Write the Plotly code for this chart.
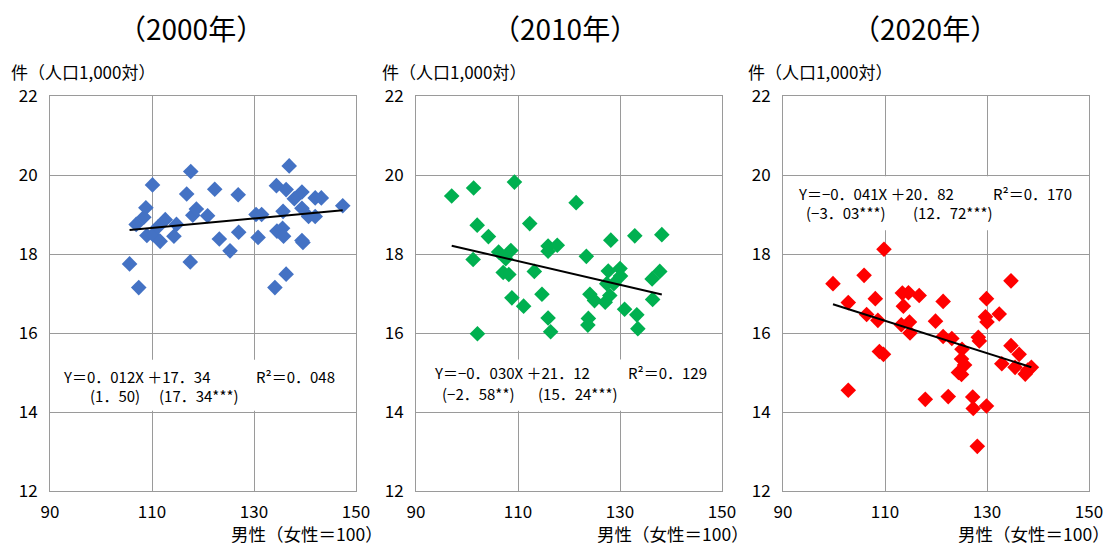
import plotly.graph_objects as go

# ---------------- data ----------------
years = ["2000", "2010", "2020"]
colors = ["#4472C4", "#00B050", "#FF0000"]

x2000 = [105.6, 107.4, 106.9, 108.4, 108.8, 110.1, 109.0, 110.2, 111.2, 111.6, 112.6, 114.3,
         114.8, 117.6, 116.8, 118.0, 118.7, 117.5, 120.9, 122.3, 123.2, 125.3, 126.9, 127.0,
         130.4, 131.5, 130.8, 134.1, 134.4, 136.3, 136.9, 135.7, 134.5, 135.6, 135.8, 136.3,
         137.9, 139.4, 139.4, 139.4, 139.6, 140.7, 142.0, 142.0, 143.2, 147.4]
y2000 = [17.75, 17.15, 18.75, 18.93, 19.17, 19.75, 18.47, 18.49, 18.69, 18.32, 18.87, 18.45,
         18.75, 20.09, 19.52, 18.98, 19.14, 17.80, 18.97, 19.64, 18.38, 18.08, 19.50, 18.55,
         19.00, 19.00, 18.42, 17.15, 19.73, 19.63, 20.23, 19.08, 18.58, 18.65, 18.45, 17.49,
         19.40, 19.57, 19.16, 18.34, 18.29, 18.95, 18.95, 19.42, 19.42, 19.22]

x2010 = [97.0, 101.3, 101.2, 102.0, 104.2, 106.2, 107.6, 108.6, 107.1, 108.2, 109.3, 108.8,
         112.3, 113.2, 111.1, 114.7, 115.9, 115.9, 117.7, 121.4, 123.4, 124.1, 125.0, 127.1,
         128.0, 127.7, 128.2, 127.4, 128.8, 130.0, 130.1, 132.9, 130.9, 133.3, 136.3, 136.4,
         137.8, 138.2, 115.9, 102.05, 116.4, 123.8, 123.7, 133.5]
y2010 = [19.47, 19.67, 17.86, 18.73, 18.44, 18.05, 17.88, 18.09, 17.53, 17.48, 19.82, 16.89,
         18.77, 17.56, 16.68, 16.98, 18.20, 18.07, 18.22, 19.30, 17.94, 16.98, 16.82, 16.78,
         16.95, 17.57, 18.35, 17.25, 17.25, 17.63, 17.44, 18.46, 16.60, 16.46, 17.37, 16.85,
         17.56, 18.49, 16.38, 15.98, 16.03, 16.37, 16.20, 16.11]

x2020 = [99.8, 105.9, 109.8, 102.8, 108.1, 113.4, 114.6, 116.7, 113.6, 121.4, 129.9, 134.7,
         132.4, 106.4, 108.6, 113.2, 114.8, 114.9, 119.9, 121.4, 123.1, 125.1, 125.0, 125.6,
         124.4, 125.0, 128.3, 128.5, 129.7, 130.0, 134.7, 132.9, 136.3, 135.5, 137.5, 138.0,
         138.7, 102.8, 108.9, 109.7, 117.9, 122.4, 127.2, 127.3, 129.9, 128.1]
y2020 = [17.25, 17.46, 18.12, 16.77, 16.87, 17.01, 17.02, 16.95, 16.68, 16.80, 16.87, 17.32,
         16.48, 16.47, 16.32, 16.21, 16.28, 16.00, 16.30, 15.91, 15.86, 15.59, 15.34, 15.19,
         15.00, 14.95, 15.89, 15.80, 16.41, 16.28, 15.68, 15.22, 15.46, 15.13, 14.96, 15.06,
         15.13, 14.55, 15.53, 15.46, 14.32, 14.39, 14.38, 14.09, 14.15, 13.13]

slopes = [0.012, -0.030, -0.041]
intercepts = [17.34, 21.12, 20.82]

eq_text = ["Y＝0．012X ＋17．34", "Y＝−0．030X ＋21．12", "Y＝−0．041X ＋20．82"]
t_slope = ["(1．50)", "(−2．58**)", "(−3．03***)"]
t_inter = ["(17．34***)", "(15．24***)", "(12．72***)"]
r2_text = ["R²＝0．048", "R²＝0．129", "R²＝0．170"]

x_ticks = [90, 110, 130, 150]
y_ticks = [12, 14, 16, 18, 20, 22]
y_label = "件（人口1,000対）"
x_label = "男性（女性＝100）"

xs = [x2000, x2010, x2020]
ys = [y2000, y2010, y2020]

# ---------------- layout helpers ----------------
W, H = 1112, 545
OFF = 8  # page offset of the figure inside the browser window
FONT = "Noto Sans CJK JP"


def px_x(px):
    return (px - OFF) / W


def px_y(py):
    return 1 - (py - OFF) / H


plot_px = [(50, 356), (416, 722), (783, 1089)]
top_px, bot_px = 96, 491
title_cx = [191, 565, 925]
ylab_x = [10, 381, 747]
xlab_right = [384, 750, 1111]

# annotation placement (data coords)
box_rects = [(90.3, 147.3, 14.03, 15.32), (91.4, 148.2, 14.03, 15.33), (90.3, 149.7, 18.6, 19.97)]
eq_pos = [(92.4, 14.91), (93.3, 14.99), (92.7, 19.54)]
ts_pos = [(97.6, 14.43), (94.9, 14.48), (94.3, 19.04)]
ti_pos = [(111.2, 14.43), (113.7, 14.48), (115.3, 19.04)]
r2_pos = [(130.2, 14.91), (131.4, 14.99), (131.0, 19.54)]

fig = go.Figure()
annotations = []
shapes = []

for i in range(3):
    sfx = "" if i == 0 else str(i + 1)
    xref, yref = "x" + sfx, "y" + sfx
    fig.add_trace(go.Scatter(
        x=xs[i], y=ys[i], mode="markers",
        marker=dict(symbol="diamond", size=12, color=colors[i], line=dict(width=0)),
        xaxis=xref, yaxis=yref, showlegend=False, cliponaxis=False))
    lx = [min(xs[i]), max(xs[i])]
    ly = [slopes[i] * v + intercepts[i] for v in lx]
    fig.add_trace(go.Scatter(
        x=lx, y=ly, mode="lines", line=dict(color="black", width=2),
        xaxis=xref, yaxis=yref, showlegend=False))

    x0, x1 = plot_px[i]
    axx = dict(domain=[px_x(x0), px_x(x1)], range=[90, 150], tickvals=x_ticks, showgrid=True,
               gridcolor="#9a9a9a", gridwidth=1, showline=True, linecolor="#9a9a9a",
               mirror=True, zeroline=False, ticks="", anchor=yref, automargin=False,
               tickfont=dict(family=FONT, size=17, color="black"), ticklabelstandoff=6)
    axy = dict(domain=[px_y(bot_px), px_y(top_px)], range=[12, 22], tickvals=y_ticks,
               showgrid=True, gridcolor="#9a9a9a", gridwidth=1, showline=True,
               linecolor="#9a9a9a", mirror=True, zeroline=False, ticks="", anchor=xref,
               automargin=False,
               tickfont=dict(family=FONT, size=17, color="black"), ticklabelstandoff=8)
    fig.update_layout(**{"xaxis" + sfx: axx, "yaxis" + sfx: axy})

    bx0, bx1, by0, by1 = box_rects[i]
    shapes.append(dict(type="rect", xref=xref, yref=yref, x0=bx0, x1=bx1, y0=by0, y1=by1,
                       fillcolor="white", line=dict(width=0), layer="between"))

    tf = dict(family=FONT, size=15, color="black")
    for txt, (px, py) in zip([eq_text[i], t_slope[i], t_inter[i], r2_text[i]],
                             [eq_pos[i], ts_pos[i], ti_pos[i], r2_pos[i]]):
        annotations.append(dict(text=txt, x=px, y=py, xref=xref, yref=yref,
                                xanchor="left", yanchor="middle", showarrow=False, font=tf,
                                borderpad=0))

    annotations.append(dict(text="（" + years[i] + "年）", x=px_x(title_cx[i]), y=px_y(28),
                            xref="paper", yref="paper", xanchor="center", yanchor="middle",
                            showarrow=False, borderpad=0,
                            font=dict(family=FONT, size=28, color="black")))
    annotations.append(dict(text=y_label, x=px_x(ylab_x[i]), y=px_y(71), xref="paper",
                            yref="paper", xanchor="left", yanchor="middle", showarrow=False,
                            font=dict(family=FONT, size=17, color="black"), borderpad=0))
    annotations.append(dict(text=x_label, x=px_x(xlab_right[i]), y=px_y(533), xref="paper",
                            yref="paper", xanchor="right", yanchor="middle", showarrow=False,
                            font=dict(family=FONT, size=17.5, color="black"), borderpad=0))

fig.update_layout(width=W, height=H, margin=dict(l=0, r=0, t=0, b=0),
                  paper_bgcolor="white", plot_bgcolor="white",
                  annotations=annotations, shapes=shapes,
                  font=dict(family=FONT, color="black"))

fig.write_html("out.html")
